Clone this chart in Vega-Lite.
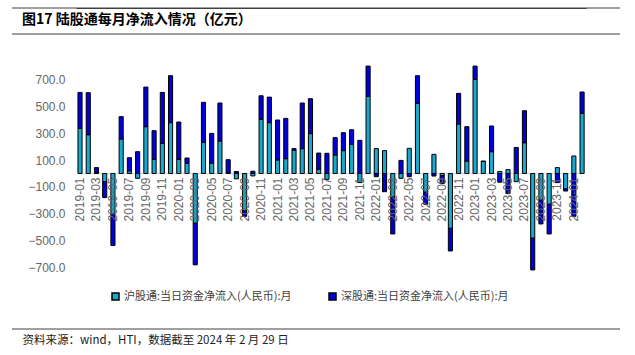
{
  "$schema": "https://vega.github.io/schema/vega-lite/v6.json",
  "width": 608,
  "height": 323,
  "autosize": {"type": "none"},
  "padding": {"left": 12, "top": 6, "right": 15, "bottom": 26},
  "background": "white",
  "config": {"view": {"stroke": null}, "font": "Noto Sans CJK SC"},
  "title": {
    "text": "图17 陆股通每月净流入情况（亿元）",
    "anchor": "start",
    "frame": "group",
    "dx": 10,
    "offset": -20.5,
    "font": "Noto Sans CJK SC",
    "fontSize": 14,
    "fontWeight": "bold",
    "color": "#000000"
  },
  "data": {"values": [
    {"month":"2019-01","series":"沪股通","value":337},{"month":"2019-01","series":"深股通","value":269},
    {"month":"2019-02","series":"沪股通","value":290},{"month":"2019-02","series":"深股通","value":314},
    {"month":"2019-03","series":"沪股通","value":8},{"month":"2019-03","series":"深股通","value":36},
    {"month":"2019-04","series":"沪股通","value":-61},{"month":"2019-04","series":"深股通","value":-119},
    {"month":"2019-05","series":"沪股通","value":-300},{"month":"2019-05","series":"深股通","value":-238},
    {"month":"2019-06","series":"沪股通","value":258},{"month":"2019-06","series":"深股通","value":167},
    {"month":"2019-07","series":"沪股通","value":20},{"month":"2019-07","series":"深股通","value":98},
    {"month":"2019-08","series":"沪股通","value":-36},{"month":"2019-08","series":"深股通","value":163},
    {"month":"2019-09","series":"沪股通","value":350},{"month":"2019-09","series":"深股通","value":296},
    {"month":"2019-10","series":"沪股通","value":106},{"month":"2019-10","series":"深股通","value":214},
    {"month":"2019-11","series":"沪股通","value":225},{"month":"2019-11","series":"深股通","value":381},
    {"month":"2019-12","series":"沪股通","value":380},{"month":"2019-12","series":"深股通","value":351},
    {"month":"2020-01","series":"沪股通","value":106},{"month":"2020-01","series":"深股通","value":279},
    {"month":"2020-02","series":"沪股通","value":76},{"month":"2020-02","series":"深股通","value":40},
    {"month":"2020-03","series":"沪股通","value":-372},{"month":"2020-03","series":"深股通","value":-311},
    {"month":"2020-04","series":"沪股通","value":233},{"month":"2020-04","series":"深股通","value":299},
    {"month":"2020-05","series":"沪股通","value":78},{"month":"2020-05","series":"深股通","value":222},
    {"month":"2020-06","series":"沪股通","value":243},{"month":"2020-06","series":"深股通","value":284},
    {"month":"2020-07","series":"沪股通","value":3},{"month":"2020-07","series":"深股通","value":100},
    {"month":"2020-08","series":"沪股通","value":-40},{"month":"2020-08","series":"深股通","value":15},
    {"month":"2020-09","series":"沪股通","value":-280},{"month":"2020-09","series":"深股通","value":-40},
    {"month":"2020-10","series":"沪股通","value":-18},{"month":"2020-10","series":"深股通","value":17},
    {"month":"2020-11","series":"沪股通","value":405},{"month":"2020-11","series":"深股通","value":176},
    {"month":"2020-12","series":"沪股通","value":380},{"month":"2020-12","series":"深股通","value":191},
    {"month":"2021-01","series":"沪股通","value":101},{"month":"2021-01","series":"深股通","value":299},
    {"month":"2021-02","series":"沪股通","value":111},{"month":"2021-02","series":"深股通","value":301},
    {"month":"2021-03","series":"沪股通","value":173},{"month":"2021-03","series":"深股通","value":13},
    {"month":"2021-04","series":"沪股通","value":186},{"month":"2021-04","series":"深股通","value":341},
    {"month":"2021-05","series":"沪股通","value":298},{"month":"2021-05","series":"深股通","value":261},
    {"month":"2021-06","series":"沪股通","value":31},{"month":"2021-06","series":"深股通","value":122},
    {"month":"2021-07","series":"沪股通","value":-44},{"month":"2021-07","series":"深股通","value":151},
    {"month":"2021-08","series":"沪股通","value":138},{"month":"2021-08","series":"深股通","value":130},
    {"month":"2021-09","series":"沪股通","value":171},{"month":"2021-09","series":"深股通","value":134},
    {"month":"2021-10","series":"沪股通","value":218},{"month":"2021-10","series":"深股通","value":109},
    {"month":"2021-11","series":"沪股通","value":-68},{"month":"2021-11","series":"深股通","value":248},
    {"month":"2021-12","series":"沪股通","value":577},{"month":"2021-12","series":"深股通","value":226},
    {"month":"2022-01","series":"沪股通","value":186},{"month":"2022-01","series":"深股通","value":-24},
    {"month":"2022-02","series":"沪股通","value":171},{"month":"2022-02","series":"深股通","value":-136},
    {"month":"2022-03","series":"沪股通","value":-175},{"month":"2022-03","series":"深股通","value":-277},
    {"month":"2022-04","series":"沪股通","value":-36},{"month":"2022-04","series":"深股通","value":98},
    {"month":"2022-05","series":"沪股通","value":188},{"month":"2022-05","series":"深股通","value":-24},
    {"month":"2022-06","series":"沪股通","value":524},{"month":"2022-06","series":"深股通","value":207},
    {"month":"2022-07","series":"沪股通","value":-140},{"month":"2022-07","series":"深股通","value":-90},
    {"month":"2022-08","series":"沪股通","value":143},{"month":"2022-08","series":"深股通","value":-19},
    {"month":"2022-09","series":"沪股通","value":-15},{"month":"2022-09","series":"深股通","value":-60},
    {"month":"2022-10","series":"沪股通","value":-410},{"month":"2022-10","series":"深股通","value":-169},
    {"month":"2022-11","series":"沪股通","value":370},{"month":"2022-11","series":"深股通","value":229},
    {"month":"2022-12","series":"沪股通","value":93},{"month":"2022-12","series":"深股通","value":257},
    {"month":"2023-01","series":"沪股通","value":703},{"month":"2023-01","series":"深股通","value":100},
    {"month":"2023-02","series":"沪股通","value":90},{"month":"2023-02","series":"深股通","value":3},
    {"month":"2023-03","series":"沪股通","value":163},{"month":"2023-03","series":"深股通","value":192},
    {"month":"2023-04","series":"沪股通","value":15},{"month":"2023-04","series":"深股通","value":-65},
    {"month":"2023-05","series":"沪股通","value":29},{"month":"2023-05","series":"深股通","value":-150},
    {"month":"2023-06","series":"沪股通","value":-61},{"month":"2023-06","series":"深股通","value":195},
    {"month":"2023-07","series":"沪股通","value":230},{"month":"2023-07","series":"深股通","value":239},
    {"month":"2023-08","series":"沪股通","value":-484},{"month":"2023-08","series":"深股通","value":-237},
    {"month":"2023-09","series":"沪股通","value":-200},{"month":"2023-09","series":"深股通","value":-177},
    {"month":"2023-10","series":"沪股通","value":-230},{"month":"2023-10","series":"深股通","value":-222},
    {"month":"2023-11","series":"沪股通","value":44},{"month":"2023-11","series":"深股通","value":-68},
    {"month":"2023-12","series":"沪股通","value":-115},{"month":"2023-12","series":"深股通","value":-16},
    {"month":"2024-01","series":"沪股通","value":131},{"month":"2024-01","series":"深股通","value":-320},
    {"month":"2024-02","series":"沪股通","value":449},{"month":"2024-02","series":"深股通","value":160}
  ]},
  "layer": [
    {
      "data": {"values": [{}]},
      "mark": {"type": "rule", "color": "#D9D9D9", "strokeWidth": 1.5},
      "encoding": {
        "y": {"datum": 0, "type": "quantitative"},
        "x": {"datum": "2019-01", "type": "ordinal"},
        "x2": {"datum": "2024-02"}
      }
    },
    {
      "mark": {"type": "bar", "stroke": "#000000", "strokeWidth": 1},
      "encoding": {
        "x": {
          "field": "month",
          "type": "ordinal",
          "scale": {"type": "band", "paddingInner": 0.5, "paddingOuter": 0.25, "range": [63.9, 574.2]},
          "axis": {
            "orient": "bottom",
            "values": ["2019-01","2019-03","2019-05","2019-07","2019-09","2019-11","2020-01","2020-03","2020-05","2020-07","2020-09","2020-11","2021-01","2021-03","2021-05","2021-07","2021-09","2021-11","2022-01","2022-03","2022-05","2022-07","2022-09","2022-11","2023-01","2023-03","2023-05","2023-07","2023-09","2023-11","2024-01"],
            "labelAngle": -90,
            "labelAlign": "right",
            "labelBaseline": "middle",
            "labelPadding": -152,
            "labelFont": "Liberation Sans",
            "labelFontSize": 12,
            "labelColor": "#666666",
            "labelOverlap": false,
            "domain": false,
            "ticks": false,
            "tickSize": 0,
            "zindex": 1,
            "title": "资料来源：wind，HTI，数据截至 2024 年 2 月 29 日",
            "titleFont": "Noto Sans CJK SC",
            "titleFontSize": 11.5,
            "titleFontWeight": "normal",
            "titleColor": "#222222",
            "titleAnchor": "start",
            "titleAlign": "left",
            "titleBaseline": "middle",
            "titleX": 10,
            "titleY": 11
          }
        },
        "y": {
          "field": "value",
          "type": "quantitative",
          "stack": "zero",
          "scale": {"domain": [-1162.4, 1252.1], "nice": false, "zero": false},
          "axis": {
            "orient": "left",
            "values": [-700, -500, -300, -100, 100, 300, 500, 700, 1237.1],
            "format": ".1f",
            "labelExpr": "datum.value > 1200 ? '' : datum.label",
            "labelFont": "Liberation Sans",
            "labelFontSize": 12,
            "labelColor": "#666666",
            "labelPadding": -53,
            "labelAlign": "right",
            "domain": false,
            "ticks": false,
            "tickSize": 0,
            "grid": true,
            "gridColor": "#404040",
            "gridWidth": 1,
            "gridOpacity": {"condition": {"test": "datum.value > 1200", "value": 1}, "value": 0},
            "title": null
          }
        },
        "color": {
          "field": "series",
          "type": "nominal",
          "scale": {"domain": ["沪股通", "深股通"], "range": ["#17A9D0", "#0000DD"]},
          "legend": {
            "orient": "none",
            "legendX": 98,
            "legendY": 285,
            "direction": "horizontal",
            "title": null,
            "symbolType": "square",
            "symbolSize": 49,
            "symbolStrokeColor": "#000000",
            "symbolStrokeWidth": 1.5,
            "labelFont": "Noto Sans CJK SC",
            "labelFontSize": 11,
            "labelColor": "#404040",
            "labelOffset": 3,
            "labelLimit": 300,
            "columnPadding": 34,
            "labelExpr": "datum.label + ':当日资金净流入(人民币):月'"
          }
        },
        "order": {"field": "series", "sort": "ascending"}
      }
    },
    {
      "data": {"values": [{"y": 1237.1}, {"y": 1042.5}, {"y": -1162.4}]},
      "mark": {"type": "rule", "color": "#404040", "strokeWidth": 1, "clip": false},
      "encoding": {
        "y": {"field": "y", "type": "quantitative"}
      }
    }
  ]
}
